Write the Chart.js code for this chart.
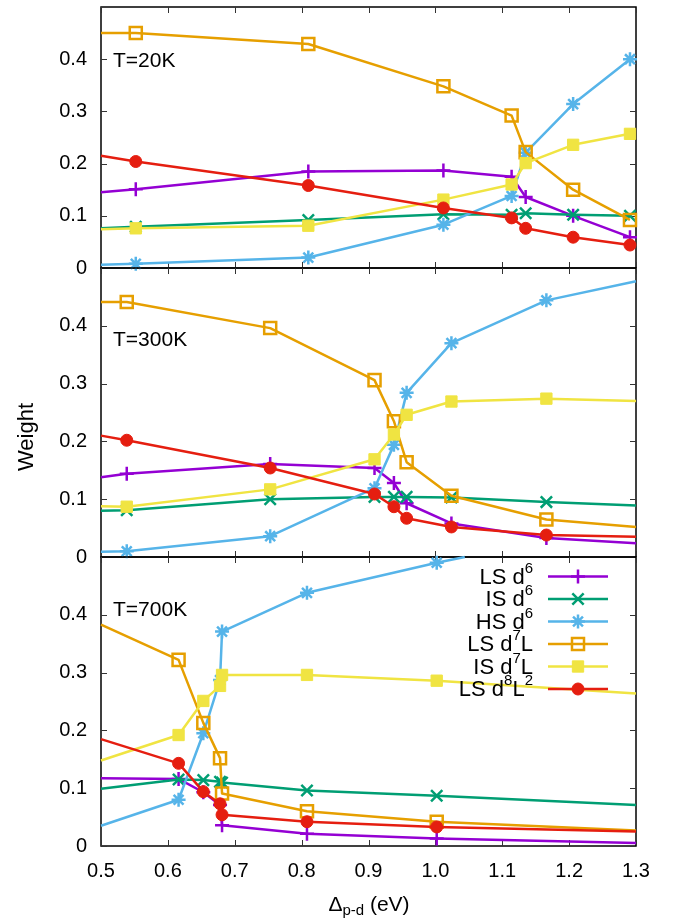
<!DOCTYPE html>
<html>
<head>
<meta charset="utf-8">
<script src="https://cdn.jsdelivr.net/npm/chart.js@4"></script>
<style>
    html, body { margin: 0; padding: 0; background: #fff; }
    #wrap { position: relative; width: 673px; height: 919px; }
    #wrap canvas { position: absolute; left: 0; top: 0; }
</style>
</head>
<body>
<div id="wrap">
    <canvas id="panel20" width="673" height="919"></canvas>
    <canvas id="panel300" width="673" height="919"></canvas>
    <canvas id="panel700" width="673" height="919"></canvas>
</div>
<script>
//series names, gnuplot style: ^ raises the next character
const seriesLabels = ["LS d^6", "IS d^6", "HS d^6", "LS d^7L", "IS d^7L", "LS d^8L^2"];
const panelTitles = ["T=20K", "T=300K", "T=700K"];
const xTicks = [0.5, 0.6, 0.7, 0.8, 0.9, 1.0, 1.1, 1.2, 1.3];
const yTicks = [0, 0.1, 0.2, 0.3, 0.4];

//T=20K (first value: where the line meets the left border)
const x20 = [0.5, 0.552, 0.810, 1.012, 1.114, 1.135, 1.206, 1.291];
const lsD6_20   = [0.145, 0.151, 0.185, 0.187, 0.175, 0.136, 0.100, 0.059];
const isD6_20   = [0.076, 0.079, 0.092, 0.103, 0.102, 0.105, 0.102, 0.100];
const hsD6_20   = [0.006, 0.008, 0.020, 0.083, 0.138, 0.221, 0.314, 0.400];
const lsD7L_20  = [0.450, 0.450, 0.429, 0.348, 0.292, 0.222, 0.150, 0.092];
const isD7L_20  = [0.074, 0.076, 0.081, 0.131, 0.160, 0.201, 0.236, 0.257];
const lsD8L2_20 = [0.215, 0.204, 0.158, 0.115, 0.096, 0.076, 0.059, 0.044];

//T=300K
const x300 = [0.5, 0.5385, 0.753, 0.909, 0.938, 0.957, 1.024, 1.166, 1.3];
const lsD6_300   = [0.138, 0.144, 0.161, 0.154, 0.128, 0.093, 0.058, 0.033, 0.024];
const isD6_300   = [0.080, 0.081, 0.100, 0.104, 0.104, 0.104, 0.103, 0.095, 0.089];
const hsD6_300   = [0.009, 0.010, 0.036, 0.119, 0.194, 0.284, 0.370, 0.444, 0.477];
const lsD7L_300  = [0.441, 0.441, 0.396, 0.306, 0.235, 0.164, 0.106, 0.065, 0.052];
const isD7L_300  = [0.088, 0.087, 0.117, 0.169, 0.212, 0.246, 0.269, 0.274, 0.270];
const lsD8L2_300 = [0.210, 0.202, 0.154, 0.109, 0.087, 0.067, 0.052, 0.038, 0.035];

//T=700K
const x700 = [0.5, 0.616, 0.653, 0.678, 0.681, 0.808, 1.002, 1.3];
const lsD6_700   = [0.117, 0.116, 0.093, 0.071, 0.036, 0.021, 0.013, 0.005];
const isD6_700   = [0.099, 0.115, 0.114, 0.111, 0.110, 0.096, 0.087, 0.071];
const lsD7L_700  = [0.383, 0.322, 0.213, 0.152, 0.091, 0.060, 0.042, 0.027];
const isD7L_700  = [0.148, 0.192, 0.251, 0.277, 0.296, 0.296, 0.286, 0.264];
const lsD8L2_700 = [0.185, 0.143, 0.094, 0.073, 0.054, 0.042, 0.033, 0.025];
//HS leaves the frame through the top border
const x700hs = [0.5, 0.616, 0.653, 0.678, 0.681, 0.808, 1.002, 1.044];
const hsD6_700 = [0.035, 0.080, 0.195, 0.287, 0.371, 0.438, 0.490, 0.500];

/**********/
const FONT = "'Liberation Sans', Arial, Helvetica, sans-serif";
const colors = ["#9400d3", "#009e73", "#56b4e9", "#e69f00", "#f0e442", "#e51e10"];
const markers = [
    { style: "cross",    radius: 7,   border: 2.5, fill: "rgba(0,0,0,0)" },
    { style: "crossRot", radius: 8,   border: 2.5, fill: "rgba(0,0,0,0)" },
    { style: "star",     radius: 7,   border: 2.5, fill: "rgba(0,0,0,0)" },
    { style: "rect",     radius: 8.5, border: 2.5, fill: "rgba(0,0,0,0)" },
    { style: "rect",     radius: 8,   border: 1,   fill: "#f0e442" },
    { style: "circle",   radius: 6,   border: 1,   fill: "#e51e10" }
];

Chart.defaults.font.family = FONT;
Chart.defaults.font.size = 20;
Chart.defaults.color = "#000";

/**********/
function onFrame(p)
{
    //points that only mark where a line crosses the border get no marker
    return p.x <= 0.5 || p.x >= 1.3 || p.y >= 0.5;
}

/**********/
function makeDataset(i, xs, ys)
{
    let points = [];

    for (let k = 0; k < xs.length; k++)
    {
        points.push({ x: xs[k], y: ys[k] });
    }

    let m = markers[i];

    return {
        label: seriesLabels[i],
        data: points,
        borderColor: colors[i],
        borderWidth: 2.5,
        borderJoinStyle: "round",
        pointStyle: m.style,
        pointBorderColor: colors[i],
        pointBackgroundColor: m.fill,
        pointBorderWidth: m.border,
        pointRadius: function(c) { return (c.raw && onFrame(c.raw)) ? 0 : m.radius; },
        pointHoverRadius: 0,
        tension: 0,
        clip: false,
        order: seriesLabels.length - i
    };
}

/**********/
function splitLabel(text)
{
    let parts = [];
    let plain = "";

    for (let i = 0; i < text.length; i++)
    {
        if (text[i] === "^" && i + 1 < text.length)
        {
            if (plain) { parts.push({ text: plain, sup: false }); plain = ""; }
            parts.push({ text: text[i + 1], sup: true });
            i++;
        }
        else { plain += text[i]; }
    }

    if (plain) { parts.push({ text: plain, sup: false }); }

    return parts;
}

/**********/
function drawLegend(chart)
{
    let ctx = chart.ctx;
    let sets = chart.data.datasets;

    ctx.save();

    for (let i = 0; i < sets.length; i++)
    {
        let ds = sets[i];
        let y = 576.5 + i * 22.5;
        let parts = splitLabel(ds.label);

        //measure, then right align the text
        let width = 0;
        for (let p of parts)
        {
            ctx.font = (p.sup ? "15px " : "22px ") + FONT;
            width += ctx.measureText(p.text).width;
        }

        let x = 533 - width;
        ctx.fillStyle = "#000";
        ctx.textAlign = "left";
        ctx.textBaseline = "middle";

        for (let p of parts)
        {
            ctx.font = (p.sup ? "15px " : "22px ") + FONT;
            ctx.fillText(p.text, x, p.sup ? y - 8 : y + 1);
            x += ctx.measureText(p.text).width;
        }

        //sample line and marker
        ctx.strokeStyle = ds.borderColor;
        ctx.lineWidth = ds.borderWidth;
        ctx.beginPath();
        ctx.moveTo(548, y);
        ctx.lineTo(608, y);
        ctx.stroke();

        let m = markers[i];
        ctx.fillStyle = m.fill;
        ctx.lineWidth = m.border;
        Chart.helpers.drawPoint(ctx, { pointStyle: m.style, radius: m.radius, borderWidth: m.border, rotation: 0 }, 578, y);
    }

    ctx.restore();
}

/**********/
function framePlugin()
{
    return {
        id: "frame",
        beforeDatasetsDraw(chart)
        {
            let ctx = chart.ctx;
            let a = chart.chartArea;
            let xs = chart.scales.x;
            let ys = chart.scales.y;

            ctx.save();
            ctx.strokeStyle = "#000";
            ctx.lineWidth = 1.5;
            ctx.strokeRect(a.left, a.top, a.right - a.left, a.bottom - a.top);

            //inward ticks on all four sides
            ctx.lineWidth = 1;
            ctx.strokeStyle = "#333";
            ctx.beginPath();
            for (let v of xTicks)
            {
                let px = Math.round(xs.getPixelForValue(v)) + 0.5;
                ctx.moveTo(px, a.bottom); ctx.lineTo(px, a.bottom - 6);
                ctx.moveTo(px, a.top); ctx.lineTo(px, a.top + 6);
            }
            for (let v of yTicks)
            {
                let py = Math.round(ys.getPixelForValue(v)) + 0.5;
                ctx.moveTo(a.left, py); ctx.lineTo(a.left + 6, py);
                ctx.moveTo(a.right, py); ctx.lineTo(a.right - 6, py);
            }
            ctx.stroke();
            ctx.restore();
        }
    };
}

/**********/
function textPlugin(title, titleY, extra)
{
    return {
        id: "panelText",
        afterDatasetsDraw(chart)
        {
            let ctx = chart.ctx;

            ctx.save();
            ctx.fillStyle = "#000";
            ctx.font = "21px " + FONT;
            ctx.textAlign = "left";
            ctx.textBaseline = "middle";
            ctx.fillText(title, 113, titleY);
            ctx.restore();

            if (extra) { extra(chart); }
        }
    };
}

/**********/
function drawYTitle(chart)
{
    let ctx = chart.ctx;

    ctx.save();
    ctx.translate(27, 437);
    ctx.rotate(-Math.PI / 2);
    ctx.fillStyle = "#000";
    ctx.font = "22px " + FONT;
    ctx.textAlign = "center";
    ctx.textBaseline = "middle";
    ctx.fillText("Weight", 0, 0);
    ctx.restore();
}

/**********/
function drawXTitle(chart)
{
    let ctx = chart.ctx;
    let parts = [
        { text: "\u0394", font: "21px ", dy: 0 },
        { text: "p-d", font: "15px ", dy: 6 },
        { text: " (eV)", font: "21px ", dy: 0 }
    ];

    ctx.save();
    ctx.fillStyle = "#000";
    ctx.textAlign = "left";
    ctx.textBaseline = "middle";

    let width = 0;
    for (let p of parts) { ctx.font = p.font + FONT; width += ctx.measureText(p.text).width; }

    let x = 369 - width / 2;
    for (let p of parts)
    {
        ctx.font = p.font + FONT;
        ctx.fillText(p.text, x, 905 + p.dy);
        x += ctx.measureText(p.text).width;
    }
    ctx.restore();
}

/**********/
function noOverhang(s)
{
    //keep tick labels from pushing the plot area around
    s.paddingTop = 0;
    s.paddingBottom = 0;
    s.paddingLeft = 0;
    s.paddingRight = 0;
}

/**********/
function makeChart(id, datasets, top, bottom, title, titleY, last, extra)
{
    let ctx = document.getElementById(id);

    return new Chart(ctx,
    {
        type: "line",

        data: { datasets: datasets },

        options:
        {
            responsive: false,
            animation: false,
            devicePixelRatio: 1,
            events: [],
            layout:
            {
                autoPadding: false,
                padding: { top: top, bottom: last ? 0 : 919 - bottom, left: 0, right: 37 }
            },
            plugins: { legend: { display: false }, tooltip: { enabled: false } },
            scales:
            {
                x:
                {
                    type: "linear",
                    min: 0.5,
                    max: 1.3,
                    grid: { display: false, drawTicks: false },
                    border: { display: false },
                    ticks:
                    {
                        display: last,
                        stepSize: 0.1,
                        padding: 13,
                        maxRotation: 0,
                        autoSkip: false,
                        font: { size: 20 },
                        callback: function(v) { return v.toFixed(1); }
                    },
                    afterFit: function(s) { s.height = last ? 919 - bottom : 0; noOverhang(s); }
                },
                y:
                {
                    min: 0,
                    max: 0.5,
                    grid: { display: false, drawTicks: false },
                    border: { display: false },
                    ticks:
                    {
                        stepSize: 0.1,
                        padding: 14,
                        font: { size: 20 },
                        callback: function(v) { return v > 0.45 ? "" : (v === 0 ? "0" : v.toFixed(1)); }
                    },
                    afterFit: function(s) { s.width = 101; noOverhang(s); }
                }
            }
        },

        plugins: [framePlugin(), textPlugin(title, titleY, extra)]
    });
}

/**********/
let sets20 = [
    makeDataset(0, x20, lsD6_20),
    makeDataset(1, x20, isD6_20),
    makeDataset(2, x20, hsD6_20),
    makeDataset(3, x20, lsD7L_20),
    makeDataset(4, x20, isD7L_20),
    makeDataset(5, x20, lsD8L2_20)
];

let sets300 = [
    makeDataset(0, x300, lsD6_300),
    makeDataset(1, x300, isD6_300),
    makeDataset(2, x300, hsD6_300),
    makeDataset(3, x300, lsD7L_300),
    makeDataset(4, x300, isD7L_300),
    makeDataset(5, x300, lsD8L2_300)
];

let sets700 = [
    makeDataset(0, x700, lsD6_700),
    makeDataset(1, x700, isD6_700),
    makeDataset(2, x700hs, hsD6_700),
    makeDataset(3, x700, lsD7L_700),
    makeDataset(4, x700, isD7L_700),
    makeDataset(5, x700, lsD8L2_700)
];

makeChart("panel20", sets20, 7, 268, panelTitles[0], 61, false, null);
makeChart("panel300", sets300, 268, 557, panelTitles[1], 340, false, drawYTitle);
makeChart("panel700", sets700, 557, 846, panelTitles[2], 610, true, function(chart)
{
    drawLegend(chart);
    drawXTitle(chart);
});
</script>
</body>
</html>
